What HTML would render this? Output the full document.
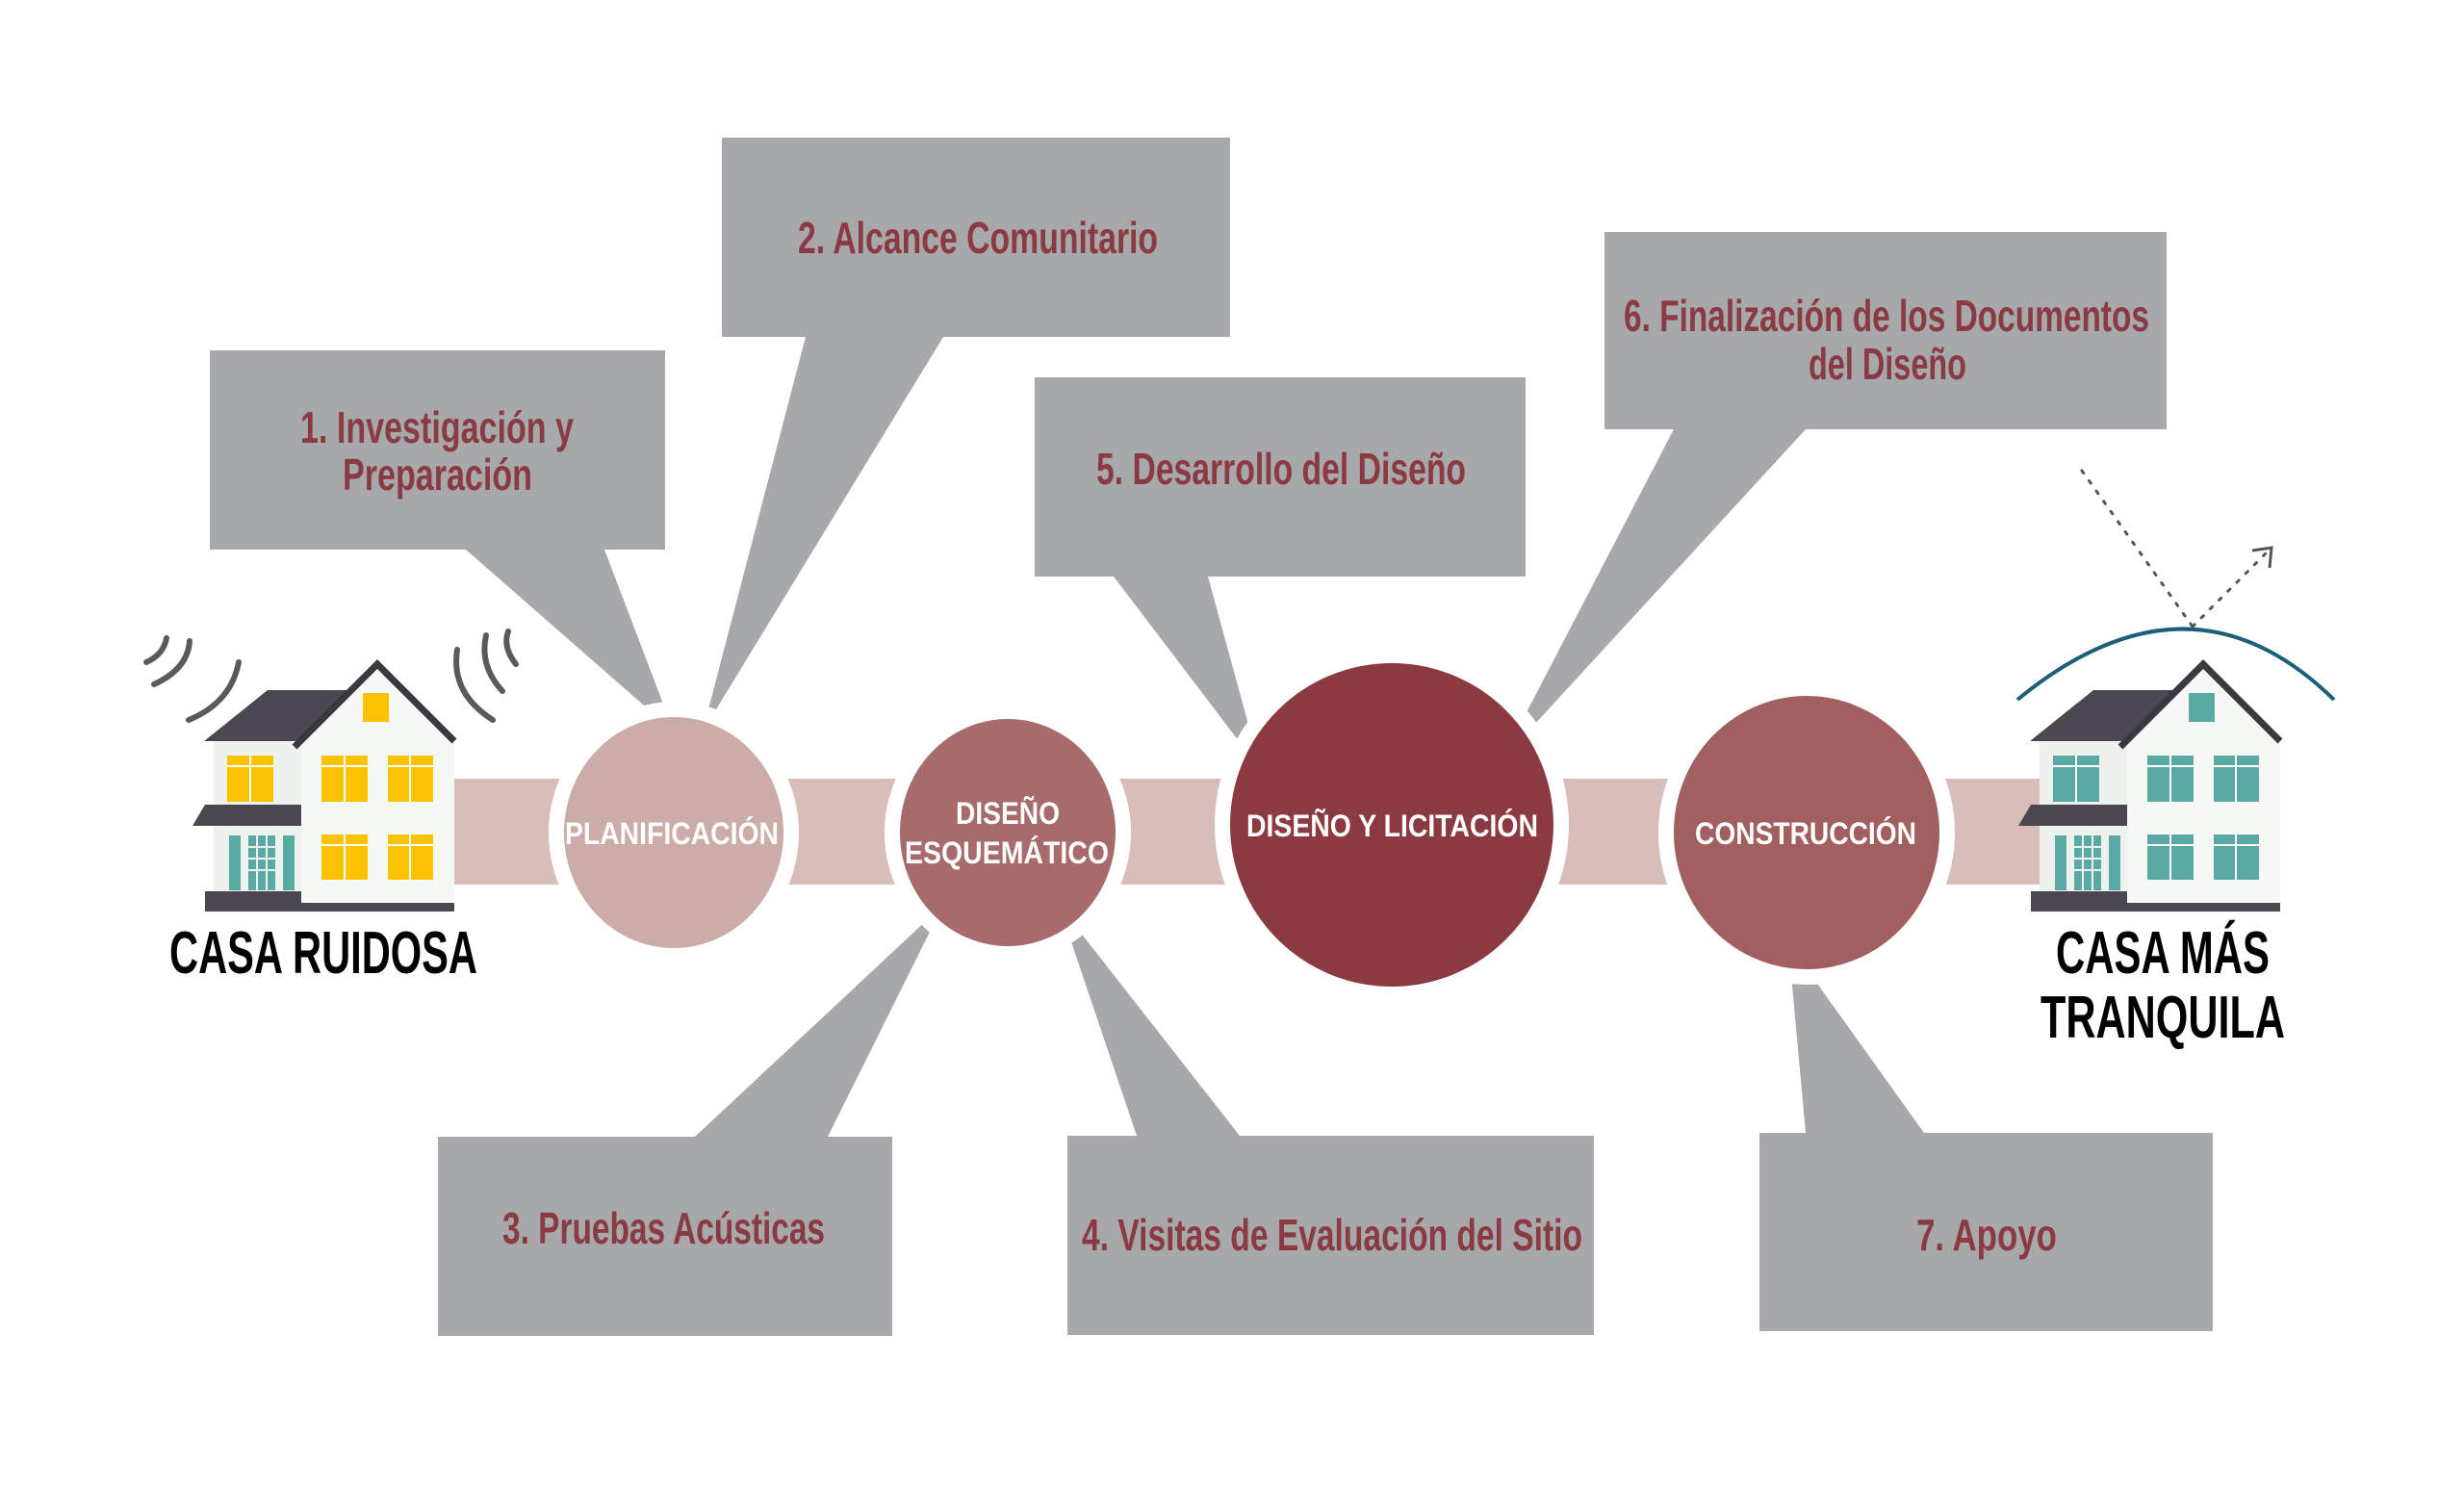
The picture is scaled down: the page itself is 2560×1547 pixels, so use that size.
<!DOCTYPE html>
<html><head><meta charset="utf-8"><style>
html,body{margin:0;padding:0;background:#fff;}
svg{display:block;}
.lb{font-family:"Liberation Sans Narrow","Liberation Sans",sans-serif;fill:#8b3a44;font-size:46px;font-weight:bold;}
.cl{font-family:"Liberation Sans Narrow","Liberation Sans",sans-serif;fill:#fff;font-weight:bold;font-size:32px;}
.ca{font-family:"Liberation Sans Narrow","Liberation Sans",sans-serif;fill:#000;font-weight:bold;font-size:62px;}
</style></head><body>
<svg width="2560" height="1547" viewBox="0 0 2560 1547" xmlns="http://www.w3.org/2000/svg">
<defs>
<g id="house">
  <polygon points="212,770 278,717 370,717 313,770" fill="#4a4750"/>
  <rect x="222" y="770" width="91" height="170" fill="#eef2ee"/>
  <polygon points="313,770 392,688 472,770 472,940 313,940" fill="#f5f8f5"/>
  <polyline points="306,776 392,690 472,770" fill="none" stroke="#3a3840" stroke-width="7"/>
  <polygon points="200,858 213,836 313,836 313,858" fill="#4a4750"/>
  <rect x="213" y="926" width="100" height="21" fill="#4a4750"/>
  <rect x="313" y="938" width="159" height="9" fill="#4a4750"/>
  <rect x="377" y="720" width="27" height="30"/>
  <rect x="236" y="785" width="48" height="48"/>
  <rect x="334" y="785" width="48" height="48"/>
  <rect x="403" y="785" width="47" height="48"/>
  <rect x="334" y="867" width="48" height="47"/>
  <rect x="403" y="867" width="47" height="47"/>
  <g stroke="#fff" stroke-width="2">
    <line x1="260" y1="785" x2="260" y2="833"/><line x1="358" y1="785" x2="358" y2="833"/><line x1="426" y1="785" x2="426" y2="833"/>
    <line x1="358" y1="867" x2="358" y2="914"/><line x1="426" y1="867" x2="426" y2="914"/>
    <line x1="236" y1="796" x2="284" y2="796"/><line x1="334" y1="796" x2="382" y2="796"/><line x1="403" y1="796" x2="450" y2="796"/>
    <line x1="334" y1="878" x2="382" y2="878"/><line x1="403" y1="878" x2="450" y2="878"/>
  </g>
  <rect x="238" y="868" width="12" height="57" fill="#5aa9a4"/>
  <rect x="258" y="868" width="28" height="57" fill="#5aa9a4"/>
  <rect x="294" y="868" width="12" height="57" fill="#5aa9a4"/>
  <g stroke="#eef2ee" stroke-width="2">
    <line x1="267" y1="868" x2="267" y2="925"/><line x1="277" y1="868" x2="277" y2="925"/>
    <line x1="258" y1="880" x2="286" y2="880"/><line x1="258" y1="892" x2="286" y2="892"/><line x1="258" y1="904" x2="286" y2="904"/>
  </g>
</g>
</defs>

<g fill="#a6a8a9">
  <polygon points="484,571 628,571 700,760"/>
  <polygon points="837,350 980,350 730,760"/>
  <polygon points="722,1181 860,1181 980,940"/>
  <polygon points="1181,1180 1288,1180 1100,940"/>
  <polygon points="1157,599 1255,599 1310,800"/>
  <polygon points="1739,446 1876,446 1560,790"/>
  <polygon points="1876,1177 1999,1177 1858,980"/>
  <rect x="218" y="364" width="473" height="207"/>
  <rect x="750" y="143" width="528" height="207"/>
  <rect x="455" y="1181" width="472" height="207"/>
  <rect x="1109" y="1180" width="547" height="207"/>
  <rect x="1075" y="392" width="510" height="207"/>
  <rect x="1667" y="241" width="584" height="205"/>
  <rect x="1828" y="1177" width="471" height="206"/>
</g>

<rect x="470" y="809" width="1670" height="110" fill="#d8bdb9"/>

<g stroke="#fff" stroke-width="16">
  <ellipse cx="700" cy="865" rx="122" ry="128" fill="#cbaca7"/>
  <ellipse cx="1047" cy="865" rx="120" ry="126" fill="#a66b6a"/>
  <circle cx="1446" cy="857" r="176" fill="#8b3a42"/>
  <ellipse cx="1877" cy="865" rx="146" ry="150" fill="#a15f5f"/>
</g>

<text class="cl" x="587" y="877" textLength="222" lengthAdjust="spacingAndGlyphs">PLANIFICACIÓN</text>
<text class="cl" x="993" y="856" textLength="108" lengthAdjust="spacingAndGlyphs">DISEÑO</text>
<text class="cl" x="940" y="897" textLength="212" lengthAdjust="spacingAndGlyphs">ESQUEMÁTICO</text>
<text class="cl" x="1295" y="869" textLength="303" lengthAdjust="spacingAndGlyphs">DISEÑO Y LICITACIÓN</text>
<text class="cl" x="1761" y="877" textLength="230" lengthAdjust="spacingAndGlyphs">CONSTRUCCIÓN</text>

<text class="lb" x="312" y="460" textLength="284" lengthAdjust="spacingAndGlyphs">1. Investigación y</text>
<text class="lb" x="356" y="509" textLength="197" lengthAdjust="spacingAndGlyphs">Preparación</text>
<text class="lb" x="829" y="263" textLength="374" lengthAdjust="spacingAndGlyphs">2. Alcance Comunitario</text>
<text class="lb" x="522" y="1292" textLength="335" lengthAdjust="spacingAndGlyphs">3. Pruebas Acústicas</text>
<text class="lb" x="1124" y="1299" textLength="520" lengthAdjust="spacingAndGlyphs">4. Visitas de Evaluación del Sitio</text>
<text class="lb" x="1139" y="503" textLength="384" lengthAdjust="spacingAndGlyphs">5. Desarrollo del Diseño</text>
<text class="lb" x="1687" y="344" textLength="546" lengthAdjust="spacingAndGlyphs">6. Finalización de los Documentos</text>
<text class="lb" x="1879" y="394" textLength="164" lengthAdjust="spacingAndGlyphs">del Diseño</text>
<text class="lb" x="1991" y="1299" textLength="146" lengthAdjust="spacingAndGlyphs">7. Apoyo</text>

<use href="#house" fill="#fdc300"/>
<g transform="translate(1897,0)"><use href="#house" fill="#5aa9a4"/></g>

<g fill="none" stroke="#5a5a5a" stroke-width="6" stroke-linecap="round">
  <path d="M173,663 Q170,680 152,688"/>
  <path d="M197,666 Q195,695 160,711"/>
  <path d="M248,688 Q240,730 196,748"/>
  <path d="M528,656 Q522,672 536,690"/>
  <path d="M505,660 Q498,692 522,718"/>
  <path d="M475,675 Q468,720 512,748"/>
</g>
<path d="M2096,727 Q2275,580 2425,727" fill="none" stroke="#1c5f7a" stroke-width="4"/>
<g fill="none" stroke="#555" stroke-width="3" stroke-dasharray="3,10" stroke-linecap="round">
  <line x1="2163" y1="489" x2="2278" y2="651"/>
  <line x1="2278" y1="651" x2="2357" y2="572"/>
</g>
<polyline points="2340,572 2360,569 2358,590" fill="none" stroke="#555" stroke-width="3"/>

<text class="ca" x="176" y="1011" textLength="320" lengthAdjust="spacingAndGlyphs">CASA RUIDOSA</text>
<text class="ca" x="2136" y="1011" textLength="222" lengthAdjust="spacingAndGlyphs">CASA MÁS</text>
<text class="ca" x="2120" y="1078" textLength="254" lengthAdjust="spacingAndGlyphs">TRANQUILA</text>
</svg>
</body></html>
